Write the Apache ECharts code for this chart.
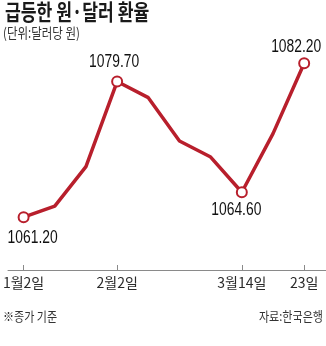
<!DOCTYPE html>
<html><head><meta charset="utf-8">
<script src="https://cdn.jsdelivr.net/npm/echarts@6/dist/echarts.min.js"></script>
<style>html,body{margin:0;padding:0;background:#fff;}#c{width:326px;height:346px;}</style>
</head><body><div id="c"></div>
<script>
const dates = ['1월2일','','','2월2일','','','','3월14일','','23일'];
const rates = [1061.2, 1062.7, 1068.1, 1079.7, 1077.5, 1071.6, 1069.4, 1064.6, 1072.6, 1082.2];
const labelIdx = [0, 3, 7, 9];
const titleText = '급등한 원·달러 환율';
const unitText = '(단위:달러당 원)';
const noteText = '※종가 기준';
const sourceText = '자료:한국은행';

const RED = '#b81f2c';
// label offsets (pixels) from each marked point
const labelOffset = {0:[9,20.5], 3:[-3,-19.5], 7:[-5.5,18], 9:[-8,-16.5]};
const data = rates.map((v,i)=>({value:[i,v], symbol: labelIdx.includes(i) ? 'circle' : 'none'}));
const labelData = labelIdx.map(i=>[i, rates[i]]);

const chart = echarts.init(document.getElementById('c'));
chart.setOption({
  animation:false,
  grid:{left:3, top:50, width:324, height:220},
  xAxis:{type:'value', min:-0.5, max:9.7, splitLine:{show:false},
    axisLine:{show:true, lineStyle:{color:'#8a8a8a', width:1}},
    axisTick:{show:true, inside:true, length:5, customValues:labelIdx, lineStyle:{color:'#8a8a8a'}},
    axisLabel:{show:true, customValues:labelIdx, margin:6, formatter:(v)=>dates[Math.round(v)],
      color:'#2a2a2a', fontSize:14, fontFamily:'"Noto Sans CJK KR",sans-serif'}
  },
  yAxis:{type:'value', min:1054, max:1084, show:false, splitLine:{show:false}},
  series:[
    {type:'line', data:data, symbolSize:10, showSymbol:true,
      lineStyle:{color:RED, width:3.5},
      itemStyle:{color:'#fff', borderColor:RED, borderWidth:2},
      z:3
    },
    {type:'custom', data:labelData, z:4, silent:true,
      renderItem:(params, api)=>{
        const i = api.value(0);
        const p = api.coord([i, api.value(1)]);
        const o = labelOffset[i];
        return {type:'text', x:p[0]+o[0], y:p[1]+o[1], scaleX:0.77,
          style:{text: api.value(1).toFixed(2), fontSize:18, fill:'#111',
            fontFamily:'"Liberation Sans",sans-serif', align:'center', verticalAlign:'middle'}};
      }
    }
  ],
  graphic:[
    {type:'text', x:5, y:1, scaleX:0.78, style:{text:titleText, fontSize:22, fontWeight:'bold', fill:'#1a1a1a', fontFamily:'"Noto Sans CJK KR",sans-serif', textVerticalAlign:'top'}},
    {type:'text', x:3, y:26, scaleX:0.82, style:{text:unitText, fontSize:14, fill:'#333', fontFamily:'"Noto Sans CJK KR",sans-serif', textVerticalAlign:'top'}},
    {type:'text', x:3, y:310, scaleX:0.85, style:{text:noteText, fontSize:13, fill:'#333', fontFamily:'"Noto Sans CJK KR",sans-serif', textVerticalAlign:'top'}},
    {type:'text', x:323, y:310, scaleX:0.85, style:{text:sourceText, fontSize:13, fill:'#333', fontFamily:'"Noto Sans CJK KR",sans-serif', textVerticalAlign:'top', textAlign:'right'}}
  ]
});
</script></body></html>
